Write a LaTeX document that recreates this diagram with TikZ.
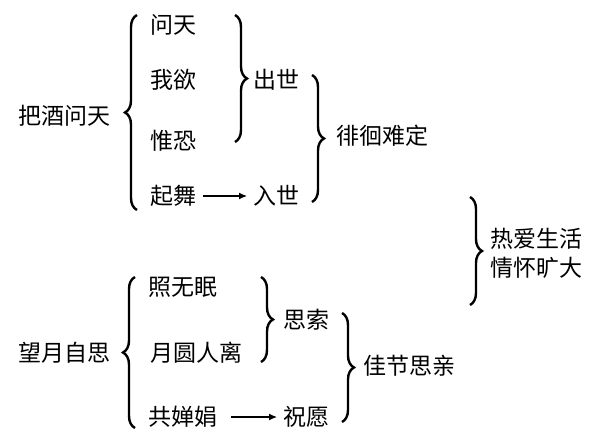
\documentclass[tikz,border=0pt]{standalone}
\usepackage{fontspec}
\setmainfont{Noto Sans CJK SC}
\usetikzlibrary{decorations.pathreplacing,arrows.meta}

\begin{document}
\begin{tikzpicture}[x=0.5pt,y=-0.5pt]
        \tikzset{word/.style={anchor=west, inner sep=3pt,
                font=\fontsize{11.5pt}{14.5pt}\selectfont},
        brace/.style={decorate, decoration={brace, amplitude=6pt},
                line width=1.2pt},
        arr/.style={-{Latex[length=4pt,width=3.5pt]}, line width=0.6pt}}
        \useasboundingbox (0,0) rectangle (600,440);
        \node[word] (bajiu) at (12,116) {把酒问天};
        \node[word] (wentian) at (144,25) {问天};
        \node[word] (woyu) at (144,80) {我欲};
        \node[word] (weikong) at (144,141) {惟恐};
        \node[word] (qiwu) at (144,196) {起舞};
        \node[word] (chushi) at (247,80) {出世};
        \node[word] (rushi) at (247,196) {入世};
        \node[word] (paihuai) at (330,136) {徘徊难定};
        \node[word, align=left] (reai) at (484,253) {热爱生活\\情怀旷大};
        \node[word] (wangyue) at (12,353) {望月自思};
        \node[word] (zhao) at (142,287) {照无眠};
        \node[word] (yueyuan) at (144,353) {月圆人离};
        \node[word] (gong) at (142,417) {共婵娟};
        \node[word] (sisuo) at (277,320) {思索};
        \node[word] (zhuyuan) at (277,417) {祝愿};
        \node[word] (jiajie) at (357,366) {佳节思亲};
        \coordinate (b1a) at (137,210); \coordinate (b1b) at (137,15);
        \coordinate (b2a) at (235,15); \coordinate (b2b) at (235,142);
        \coordinate (b3a) at (312,75); \coordinate (b3b) at (312,202);
        \coordinate (b4a) at (470,197); \coordinate (b4b) at (470,305);
        \coordinate (b5a) at (135,428); \coordinate (b5b) at (135,277);
        \coordinate (b6a) at (261,277); \coordinate (b6b) at (261,362);
        \coordinate (b7a) at (342,313); \coordinate (b7b) at (342,422);
        \draw[brace] (b1a) -- (b1b);
        \draw[brace] (b2a) -- (b2b);
        \draw[brace] (b3a) -- (b3b);
        \draw[brace] (b4a) -- (b4b);
        \draw[brace] (b5a) -- (b5b);
        \draw[brace] (b6a) -- (b6b);
        \draw[brace] (b7a) -- (b7b);
        \draw[arr] (qiwu) -- (rushi);
        \draw[arr, shorten <=3.5pt] (gong) -- (zhuyuan);
    \end{tikzpicture}
\end{document}
